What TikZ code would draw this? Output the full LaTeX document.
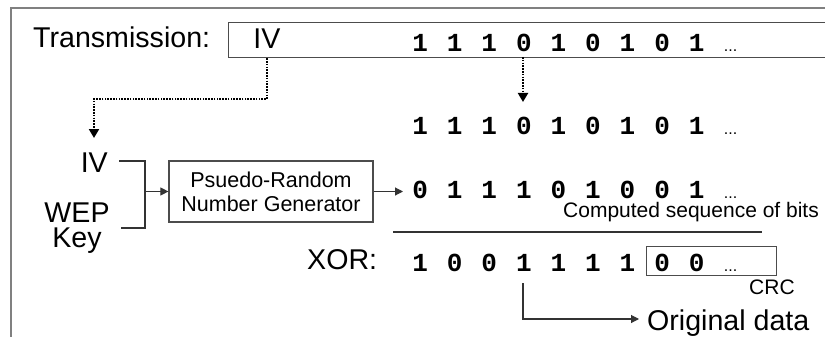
\documentclass[tikz,border=0pt]{standalone}
\usepackage{fontspec}
\setmainfont{Liberation Sans}
\newfontfamily\bitfont{Liberation Mono}[BoldFont={Liberation Mono Bold}]
\usetikzlibrary{arrows.meta}
\newcommand\Bt[1]{\makebox[34.56pt][c]{#1}}
\newcommand\Dts{{\rmfamily\mdseries\fontsize{16}{16}\selectfont...}}
\begin{document}
\begin{tikzpicture}[x=1pt,y=-1pt,
  frame/.style={draw=black!50,line width=1.5pt},
  boxline/.style={draw=black!70,line width=1.2pt},
  conn/.style={draw=black!80,line width=1.1pt},
  arr/.style={conn,-{Triangle[length=8pt,width=8pt]}},
  dotline/.style={draw=black,line width=2pt,dash pattern=on 1.6pt off 1.2pt},
  dotarr/.style={dotline,-{Triangle[length=9pt,width=10pt]}},
  big/.style={inner sep=0pt,font=\fontsize{28.6}{25}\selectfont},
  mid/.style={inner sep=0pt,font=\fontsize{21.5}{24}\selectfont},
  bits/.style={inner sep=0pt,anchor=base west,font=\bitfont\bfseries\fontsize{26}{26}\selectfont}
]
\useasboundingbox (0,0) rectangle (825,337);
\clip (0,0) rectangle (825,337);
\fill[white] (0,0) rectangle (825,337);
% outer frame
\draw[frame] (11,345) -- (11,8) -- (840,8);
% transmission line
\node[big,anchor=base west] (trans) at (33,48) {Transmission:};
\node[boxline,anchor=north west,minimum width=700pt,minimum height=35pt,inner sep=0pt] (txbox) at (228,22) {};
\node[big] (ivtx) at (267,39) {IV};
\node[bits] (row1) at (402.7,52) {\Bt1\Bt1\Bt1\Bt0\Bt1\Bt0\Bt1\Bt0\Bt1\hspace{10pt}\Dts};
\node[bits] (row2) at (402.7,134) {\Bt1\Bt1\Bt1\Bt0\Bt1\Bt0\Bt1\Bt0\Bt1\hspace{10pt}\Dts};
\node[bits] (row3) at (402.7,198) {\Bt0\Bt1\Bt1\Bt1\Bt0\Bt1\Bt0\Bt0\Bt1\hspace{10pt}\Dts};
\node[bits] (row4) at (402.7,271) {\Bt1\Bt0\Bt0\Bt1\Bt1\Bt1\Bt1\Bt0\Bt0\hspace{10pt}\Dts};
% dotted arrows
\coordinate (c4) at (523,57);
\coordinate (c4end) at (523,102);
\draw[dotarr] (c4) -- (c4end);
\draw[dotarr] (ivtx |- txbox.south) -- (267,99) -- (94,99) -- (94,138);
% inputs
\node[big,anchor=base east] (ivl) at (108,172) {IV};
\node[big,anchor=base,align=center] (wep) at (77,247) {WEP\\Key};
\node[boxline,mid,minimum width=204pt,minimum height=61pt,align=center] (prng) at (271,191.5) {Psuedo-Random\\Number Generator};
\coordinate (join) at (145,191.5);
\draw[conn] (119,161) -- (145,161) -- (145,228) -- (121,228);
\draw[arr] (join) -- (prng.west);
\coordinate (r3in) at (403,191.5);
\draw[arr] (prng.east) -- (r3in);
\node[mid,font=\fontsize{21}{21}\selectfont,anchor=base west] (comp) at (563,217) {Computed sequence of bits};
\coordinate (hl) at (393,232);
\coordinate (hr) at (762,232);
\draw[conn] (hl) -- (hr);
\node[big,anchor=base west] (xor) at (307,269) {XOR:};
\node[draw=black!70,line width=1.2pt,anchor=north west,minimum width=130pt,minimum height=29pt,inner sep=0pt] (crcbox) at (646,246) {};
\node[mid,font=\fontsize{21}{21}\selectfont,anchor=base west] (crc) at (749,294) {CRC};
\coordinate (x4) at (523,283);
\node[big,anchor=base west] (orig) at (647,330) {Original data};
\coordinate (oin) at (639,319);
\draw[arr] (x4) -- (523,319) -- (oin);
\end{tikzpicture}
\end{document}
